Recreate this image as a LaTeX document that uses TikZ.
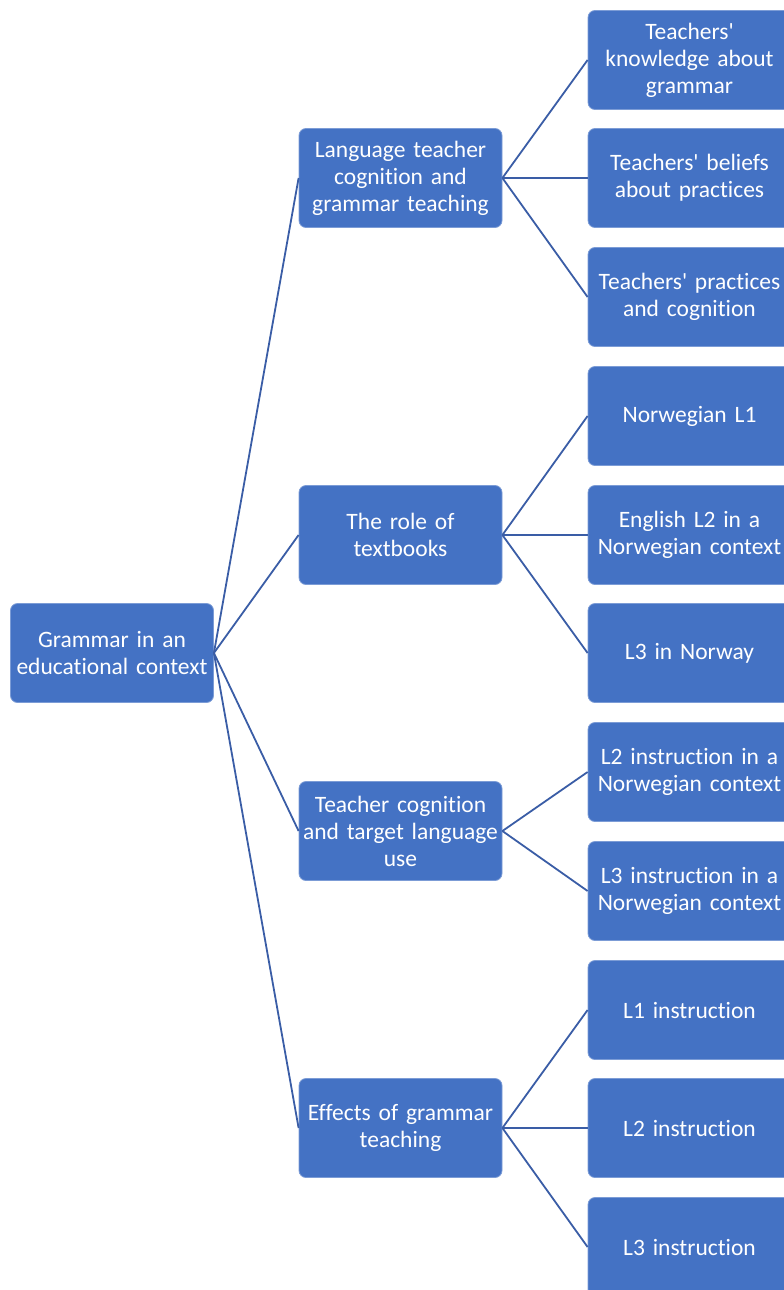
\documentclass[tikz,border=0pt]{standalone}
\usepackage{fontspec}
\setmainfont{Carlito}[Ligatures={NoCommon,TeXReset}]
\definecolor{boxblue}{HTML}{4472C4}
\definecolor{linkblue}{HTML}{3A5DA6}
\begin{document}
\begin{tikzpicture}[x=1pt,y=-1pt,
  box/.style={draw=boxblue!70!white, line width=0.8pt, fill=boxblue, rounded corners=7pt,
    minimum width=203pt, minimum height=99pt, inner sep=1pt, text=white, align=center,
    font=\fontsize{23.5}{27}\selectfont, text width=201pt, anchor=center},
  link/.style={draw=linkblue, line width=1.8pt}]
\useasboundingbox (0,0) rectangle (784,1290);
\clip (0,0) rectangle (784,1290);
\node[box] (root) at (112,653) {Grammar in an\\educational context};
\node[box] (m1) at (400.5,178) {Language teacher\\cognition and\\grammar teaching};
\node[box] (m2) at (400.5,535) {The role of\\textbooks};
\node[box] (m3) at (400.5,831) {Teacher cognition\\and target language\\use};
\node[box] (m4) at (400.5,1128) {Effects of grammar\\teaching};
\node[box] (l1) at (689.5,60) {Teachers'\\knowledge about\\grammar};
\node[box] (l2) at (689.5,178) {Teachers' beliefs\\about practices};
\node[box] (l3) at (689.5,297) {Teachers' practices\\and cognition};
\node[box] (l4) at (689.5,416) {Norwegian L1};
\node[box] (l5) at (689.5,535) {English L2 in a\\Norwegian context};
\node[box] (l6) at (689.5,653) {L3 in Norway};
\node[box] (l7) at (689.5,772) {L2 instruction in a\\Norwegian context};
\node[box] (l8) at (689.5,891) {L3 instruction in a\\Norwegian context};
\node[box] (l9) at (689.5,1010) {L1 instruction};
\node[box] (l10) at (689.5,1128) {L2 instruction};
\node[box] (l11) at (689.5,1247) {L3 instruction};
\foreach \m in {m1,m2,m3,m4} \draw[link] (root.east) -- (\m.west);
\foreach \l in {l1,l2,l3} \draw[link] (m1.east) -- (\l.west);
\foreach \l in {l4,l5,l6} \draw[link] (m2.east) -- (\l.west);
\foreach \l in {l7,l8} \draw[link] (m3.east) -- (\l.west);
\foreach \l in {l9,l10,l11} \draw[link] (m4.east) -- (\l.west);
\end{tikzpicture}
\end{document}
